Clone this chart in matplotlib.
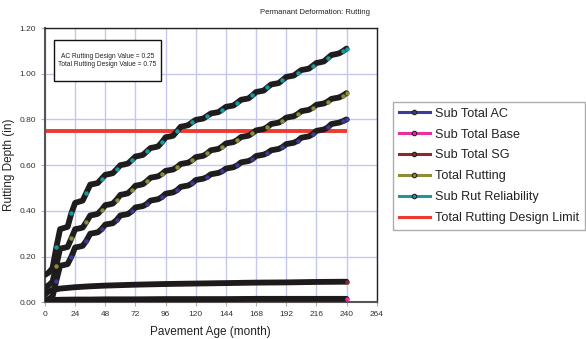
import numpy as np
import matplotlib.pyplot as plt
from matplotlib.lines import Line2D
from matplotlib.patches import Rectangle

plt.rcParams['font.family'] = ['Liberation Sans', 'DejaVu Sans']

# pavement age, quarterly samples (month)
months = np.arange(0, 241, 3)

# rutting depth (in), one row per year: months 12k, 12k+3, 12k+6, 12k+9
sub_total_ac = [
    0.010, 0.015, 0.025, 0.095,
    0.160, 0.163, 0.167, 0.200,
    0.240, 0.243, 0.247, 0.270,
    0.300, 0.303, 0.306, 0.320,
    0.340, 0.343, 0.346, 0.360,
    0.380, 0.383, 0.386, 0.398,
    0.415, 0.418, 0.421, 0.430,
    0.445, 0.448, 0.451, 0.460,
    0.475, 0.478, 0.481, 0.490,
    0.505, 0.508, 0.511, 0.520,
    0.535, 0.538, 0.541, 0.548,
    0.560, 0.563, 0.566, 0.573,
    0.585, 0.588, 0.591, 0.599,
    0.612, 0.615, 0.618, 0.626,
    0.640, 0.643, 0.646, 0.653,
    0.665, 0.668, 0.671, 0.679,
    0.692, 0.695, 0.698, 0.706,
    0.720, 0.723, 0.726, 0.735,
    0.750, 0.753, 0.756, 0.765,
    0.780, 0.783, 0.786, 0.792,
    0.800,
]
total_rutting = [
    0.065, 0.075, 0.090, 0.160,
    0.235, 0.238, 0.242, 0.280,
    0.320, 0.323, 0.327, 0.352,
    0.380, 0.383, 0.387, 0.404,
    0.425, 0.428, 0.432, 0.449,
    0.470, 0.473, 0.477, 0.492,
    0.510, 0.513, 0.517, 0.530,
    0.545, 0.548, 0.551, 0.561,
    0.575, 0.578, 0.581, 0.591,
    0.605, 0.608, 0.611, 0.621,
    0.635, 0.638, 0.641, 0.651,
    0.665, 0.668, 0.671, 0.681,
    0.695, 0.698, 0.701, 0.710,
    0.723, 0.726, 0.729, 0.739,
    0.752, 0.755, 0.758, 0.767,
    0.780, 0.783, 0.786, 0.795,
    0.808, 0.811, 0.814, 0.823,
    0.836, 0.839, 0.842, 0.851,
    0.864, 0.867, 0.870, 0.878,
    0.890, 0.893, 0.896, 0.904,
    0.915,
]
sub_rut_reliability = [
    0.120, 0.130, 0.150, 0.240,
    0.320, 0.325, 0.330, 0.390,
    0.435, 0.440, 0.445, 0.480,
    0.515, 0.518, 0.522, 0.540,
    0.558, 0.561, 0.565, 0.582,
    0.600, 0.603, 0.607, 0.622,
    0.638, 0.641, 0.645, 0.660,
    0.675, 0.678, 0.682, 0.700,
    0.722, 0.725, 0.729, 0.748,
    0.768, 0.771, 0.775, 0.787,
    0.798, 0.801, 0.804, 0.815,
    0.826, 0.829, 0.832, 0.843,
    0.855, 0.858, 0.861, 0.873,
    0.886, 0.889, 0.892, 0.905,
    0.920, 0.923, 0.926, 0.940,
    0.953, 0.956, 0.959, 0.972,
    0.986, 0.989, 0.992, 1.004,
    1.016, 1.019, 1.022, 1.034,
    1.047, 1.050, 1.054, 1.068,
    1.082, 1.085, 1.089, 1.098,
    1.110,
]

# base and subgrade are smooth, fewer samples
layer_months = [0, 3, 6, 12, 24, 36, 48, 60, 72, 96, 120, 144, 168, 192, 216, 240]
sub_total_sg = [0.035, 0.048, 0.054, 0.060, 0.066, 0.070, 0.073, 0.075,
                0.077, 0.080, 0.082, 0.084, 0.086, 0.087, 0.089, 0.090]
sub_total_base = [0.005, 0.008, 0.010, 0.011, 0.012, 0.012, 0.013, 0.013,
                  0.013, 0.014, 0.014, 0.014, 0.015, 0.015, 0.015, 0.015]

design_limit = 0.75
limit_months = [0, 240]

labels = ['Sub Total AC', 'Sub Total Base', 'Sub Total SG', 'Total Rutting',
          'Sub Rut Reliability', 'Total Rutting Design Limit']
colors = ['#3b3b9c', '#ec2f9c', '#8c2a2a', '#8c8c3a', '#19999c', '#ec3a30']

fig = plt.figure(figsize=(5.86, 3.39), dpi=100)
ax = fig.add_axes([0.0768, 0.1083, 0.566, 0.8091])

ax.set_xlim(0, 264)
ax.set_ylim(0, 1.2)
ax.set_xticks(np.arange(0, 265, 24))
ax.set_yticks(np.arange(0, 1.21, 0.2))
ax.set_yticklabels(['%.2f' % v for v in np.arange(0, 1.21, 0.2)])
ax.grid(True, color='#c5c8ec', lw=1.0)
ax.set_axisbelow(True)
ax.tick_params(labelsize=6, colors='#333333', length=3, width=0.8)
ax.tick_params(axis='both', color='#b0b0c8')
for s in ['left', 'bottom']:
    ax.spines[s].set_color('#555555')
    ax.spines[s].set_linewidth(1.5)
for s in ['top', 'right']:
    ax.spines[s].set_color('#222222')
    ax.spines[s].set_linewidth(1.0)

ax.set_xlabel('Pavement Age (month)', fontsize=8.5, color='#222222')
ax.set_ylabel('Rutting Depth (in)', fontsize=8.5, color='#222222')
ax.xaxis.set_label_coords(0.5, -0.087)
ax.yaxis.set_label_coords(-0.09, 0.5)

# design limit
ax.plot(limit_months, [design_limit] * 2, color=colors[5], lw=2.8, zorder=2, solid_capstyle='butt')

# smooth layers
for x, y, c in [(layer_months, sub_total_base, colors[1]), (layer_months, sub_total_sg, colors[2])]:
    ax.plot(x, y, color='#1e1a1c', lw=4.2, solid_capstyle='round', zorder=3)
    ax.plot(x[-1], y[-1], 'o', ms=2.2, color=c, zorder=4)

# wavy series: black band, coloured dots on the rises
rise_idx = list(range(3, len(months), 4)) + [len(months) - 1]
for y, c in [(sub_total_ac, colors[0]), (total_rutting, colors[3]), (sub_rut_reliability, colors[4])]:
    ax.plot(months, y, color='#1e1c1c', lw=4.2, solid_capstyle='round', solid_joinstyle='round', zorder=3)
    ax.plot(months, y, ls='none', marker='o', ms=2.2, color=c, markevery=rise_idx, zorder=4)

# design value box
ax.add_patch(Rectangle((0.027, 0.807), 0.3226, 0.149, transform=ax.transAxes,
                       fill=True, fc='white', ec='#111111', lw=1.0, zorder=5))
ax.text(0.188, 0.8815, 'AC Rutting Design Value = 0.25\nTotal Rutting Design Value = 0.75',
        transform=ax.transAxes, ha='center', va='center', fontsize=4.8, color='#222222',
        linespacing=1.3, zorder=6)

fig.text(0.632, 0.963, 'Permanant Deformation: Rutting', ha='right', va='center',
         fontsize=5.5, color='#222222')

handles = []
for i, c in enumerate(colors):
    if i < 5:
        handles.append(Line2D([], [], color=c, lw=2.2, marker='o', ms=3.2,
                              mfc=c, mec='#222222', mew=0.8))
    else:
        handles.append(Line2D([], [], color=c, lw=2.2))
leg = fig.legend(handles, labels, loc='upper left', bbox_to_anchor=(0.6706, 0.699),
                 fontsize=9.1, frameon=True, fancybox=False, borderaxespad=0,
                 handlelength=2.5, handletextpad=0.4, labelspacing=0.70, borderpad=0.45)
leg.get_frame().set_edgecolor('#999999')
leg.get_frame().set_linewidth(1.0)
for t in leg.get_texts():
    t.set_color('#222222')

fig.savefig('out.png', dpi=100)
